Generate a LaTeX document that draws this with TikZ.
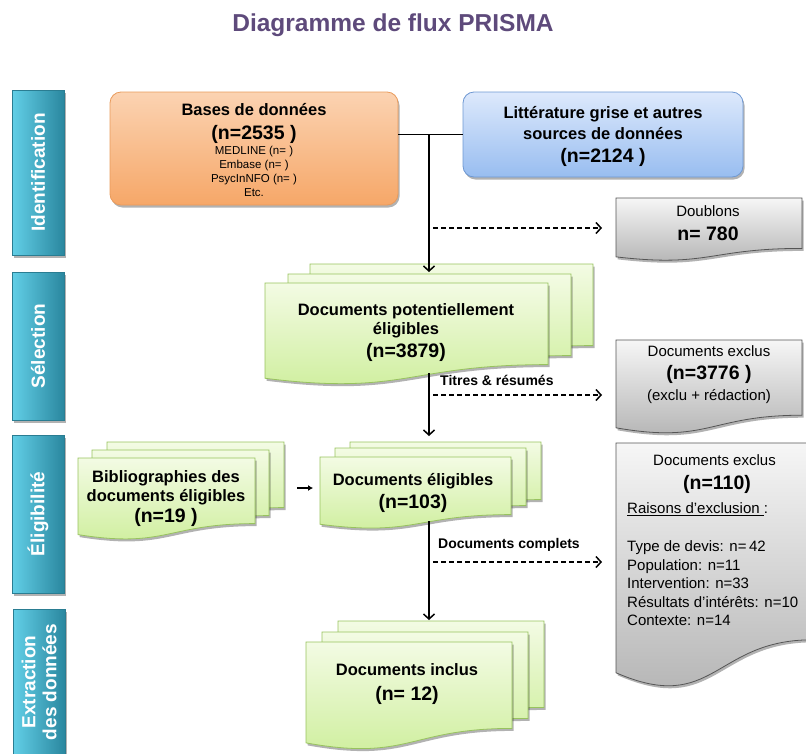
\documentclass[tikz,border=0pt]{standalone}
\usepackage{fontspec}
\setmainfont{Liberation Sans}
\usetikzlibrary{arrows.meta,shadows,calc}
\definecolor{titlepurple}{HTML}{5E4A7B}
\definecolor{oTop}{HTML}{FBD3B2}
\definecolor{oBot}{HTML}{F6A768}
\definecolor{oBor}{HTML}{E99B5C}
\definecolor{bTop}{HTML}{DDE9FC}
\definecolor{bBot}{HTML}{98BDF0}
\definecolor{bBor}{HTML}{6E98D2}
\definecolor{gTop}{HTML}{F3FBE4}
\definecolor{gBot}{HTML}{CDEE9A}
\definecolor{gBor}{HTML}{98C35E}
\definecolor{yTop}{HTML}{F6F6F6}
\definecolor{yBot}{HTML}{B0B0B0}
\definecolor{yBor}{HTML}{555555}
\definecolor{tLeft}{HTML}{62CFE7}
\definecolor{tMid}{HTML}{3BB2CF}
\definecolor{tRight}{HTML}{2A879F}
\definecolor{tBor}{HTML}{2A7D92}
\newcommand\fHd{\bfseries\fontsize{16.5}{19}\selectfont}
\newcommand\fNn{\bfseries\fontsize{19.5}{22}\selectfont}
\newcommand\fSm{\fontsize{11.5}{14}\selectfont}
\newcommand\fRg{\fontsize{15}{18}\selectfont}
\newcommand\fLb{\bfseries\fontsize{14}{17}\selectfont}
\newcommand\fBar{\bfseries\fontsize{19}{21}\selectfont}
\newcommand\docsheet[5]{%
  \path[#5] (#1,#2) -- (#3,#2) -- (#3,{#2+0.8*(#4-#2)})
    .. controls ({0.5*(#1+#3)},{#2+0.8*(#4-#2)}) and ({0.5*(#1+#3)},{#2+1.107*(#4-#2)})
    .. (#1,{#2+0.934*(#4-#2)}) -- cycle;}
\tikzset{
  shd/.style={drop shadow={shadow xshift=1.5pt,shadow yshift=-2.5pt,opacity=0.3,fill=black}},
  sheetG/.style={shd,top color=gTop,bottom color=gBot,draw=gBor,line width=0.8pt},
  sheetY/.style={shd,top color=yTop,bottom color=yBot,draw=yBor,line width=0.8pt},
  obox/.style={shd,draw=oBor,line width=0.8pt,top color=oTop,bottom color=oBot,rounded corners=11pt,inner sep=0pt},
  bbox/.style={shd,draw=bBor,line width=0.8pt,top color=bTop,bottom color=bBot,rounded corners=11pt,inner sep=0pt},
  bar/.style={shd,draw=tBor,line width=0.6pt,left color=tLeft,middle color=tMid,right color=tRight,inner sep=0pt,minimum width=52pt},
  bartext/.style={text=white,font=\fBar,rotate=90,align=center,inner sep=0pt},
  t/.style={anchor=base,inner sep=0pt},
  tl/.style={anchor=base west,inner sep=0pt},
  conn/.style={line width=1.5pt,-{Straight Barb[length=5pt,width=11pt]}},
  dconn/.style={line width=1.5pt,dash pattern=on 5pt off 3pt,-{Straight Barb[length=5pt,width=11pt]}},
}
\begin{document}
\begin{tikzpicture}[x=1pt,y=-1pt]
\useasboundingbox (0,0) rectangle (806,753);
% title
\node[t,font=\bfseries\fontsize{24.5}{28}\selectfont,text=titlepurple] (title) at (393,31) {Diagramme de flux PRISMA};
% side bars
\node[bar,minimum height=165pt] (barI) at (38,172.5) {};
\node[bartext] (barIt) at (barI.center) {Identification};
\node[bar,minimum height=148pt] (barS) at (38,346) {};
\node[bartext] (barSt) at (barS.center) {Sélection};
\node[bar,minimum height=158pt] (barE) at (38,514) {};
\node[bartext] (barEt) at (barE.center) {Éligibilité};
\node[bar,minimum height=165pt] (barX) at (39,691.5) {};
\node[bartext,font=\bfseries\fontsize{19}{21}\selectfont] (barXt) at (39,682) {Extraction\\des données};
% top boxes
\node[obox,minimum width=288pt,minimum height=113pt] (bases) at (254,148.5) {};
\node[bbox,minimum width=280pt,minimum height=85pt] (lit) at (603,134.5) {};
% document stacks
\docsheet{310}{264}{593}{366}{sheetG}
\docsheet{288}{274}{571}{376}{sheetG}
\docsheet{265}{283}{548}{385}{sheetG}
\docsheet{107}{442}{284}{524}{sheetG}
\docsheet{92}{450}{269}{532}{sheetG}
\docsheet{78}{458}{255}{540}{sheetG}
\docsheet{350}{442}{541}{514}{sheetG}
\docsheet{335}{448}{526}{520}{sheetG}
\docsheet{320}{457}{511}{529}{sheetG}
\docsheet{338}{621}{544}{729}{sheetG}
\docsheet{322}{632}{528}{740}{sheetG}
\docsheet{306}{642}{512}{750}{sheetG}
% gray documents
\docsheet{616}{198}{802}{261}{sheetY}
\docsheet{616}{340}{802}{434}{sheetY}
\docsheet{616}{443}{812}{689}{sheetY}
% connector coordinates
\coordinate (junc) at (429,134.5);
\coordinate (potTop) at (429,272);
\coordinate (dubA) at (433,228);
\coordinate (dubB) at (602,228);
\coordinate (potBot) at (429,373);
\coordinate (eligTop) at (429,436);
\coordinate (exA) at (433,395);
\coordinate (exB) at (602,395);
\coordinate (bibA) at (297,488);
\coordinate (bibB) at (313,488);
\coordinate (eligBot) at (429,521);
\coordinate (inclTop) at (429,620);
\coordinate (exC) at (433,562);
\coordinate (exD) at (602,562);
% connectors
\draw[line width=1.5pt] (bases.east |- lit.west) -- (lit.west);
\draw[conn] (junc) -- (potTop);
\draw[dconn] (dubA) -- (dubB);
\draw[conn] (potBot) -- (eligTop);
\draw[dconn] (exA) -- (exB);
\draw[line width=1.5pt,-{Latex[length=5pt,width=6pt]}] (bibA) -- (bibB);
\draw[conn] (eligBot) -- (inclTop);
\draw[dconn] (exC) -- (exD);
% texts: bases
\node[t,font=\fHd] (basesT) at (254,115) {Bases de données};
\node[t,font=\fNn] (basesN) at (254,139.3) {(n=2535 )};
\node[t,font=\fSm] (basesL1) at (254,154) {MEDLINE (n= )};
\node[t,font=\fSm] (basesL2) at (254,168) {Embase (n= )};
\node[t,font=\fSm] (basesL3) at (254,182) {PsycInNFO (n= )};
\node[t,font=\fSm] (basesL4) at (254,196) {Etc.};
% lit
\node[t,font=\fHd] (litT1) at (603,118.3) {Littérature grise et autres};
\node[t,font=\fHd] (litT2) at (603,139.3) {sources de données};
\node[t,font=\fNn] (litN) at (603,162.7) {(n=2124 )};
% doublons
\node[t,font=\fRg] (dubT) at (708,216.7) {Doublons};
\node[t,font=\fNn] (dubN) at (708,240.7) {n= 780};
% exclus 1
\node[t,font=\fRg] (ex1T) at (709,356.7) {Documents exclus};
\node[t,font=\fNn] (ex1N) at (709,379.3) {(n=3776 )};
\node[t,font=\fRg] (ex1S) at (709,400.7) {(exclu + rédaction)};
% potentiellement
\node[t,font=\fHd] (potT1) at (406,315) {Documents potentiellement};
\node[t,font=\fHd] (potT2) at (406,334.3) {éligibles};
\node[t,font=\fNn] (potN) at (406,357.3) {(n=3879)};
\node[tl,font=\fLb] (lblTR) at (440,385) {Titres \& résumés};
% bibliographies
\node[t,font=\fHd] (bibT1) at (166,482.7) {Bibliographies des};
\node[t,font=\fHd] (bibT2) at (166,501) {documents éligibles};
\node[t,font=\fNn] (bibN) at (166,522.7) {(n=19 )};
% eligibles
\node[t,font=\fHd] (eligT) at (413,485) {Documents éligibles};
\node[t,font=\fNn] (eligN) at (413,508.3) {(n=103)};
\node[tl,font=\fLb] (lblDC) at (438,548.3) {Documents complets};
% exclus 2
\node[t,font=\fRg] (ex2T) at (714.5,465) {Documents exclus};
\node[t,font=\fNn] (ex2N) at (717,489.3) {(n=110)};
\node[tl,font=\fRg] (ex2R) at (627,513.3) {\underline{Raisons d’exclusion\ }:};
\node[tl,font=\fRg] (ex2L1) at (627,551.7) {Type de devis: n=\,42};
\node[tl,font=\fRg] (ex2L2) at (627,570) {Population: n=11};
\node[tl,font=\fRg] (ex2L3) at (627,588.3) {Intervention: n=33};
\node[tl,font=\fRg] (ex2L4) at (627,607.3) {Résultats d’intérêts: n=10};
\node[tl,font=\fRg] (ex2L5) at (627,625.7) {Contexte: n=14};
% inclus
\node[t,font=\fHd] (inclT) at (407,675) {Documents inclus};
\node[t,font=\fNn] (inclN) at (407,700) {(n= 12)};
\end{tikzpicture}
\end{document}
